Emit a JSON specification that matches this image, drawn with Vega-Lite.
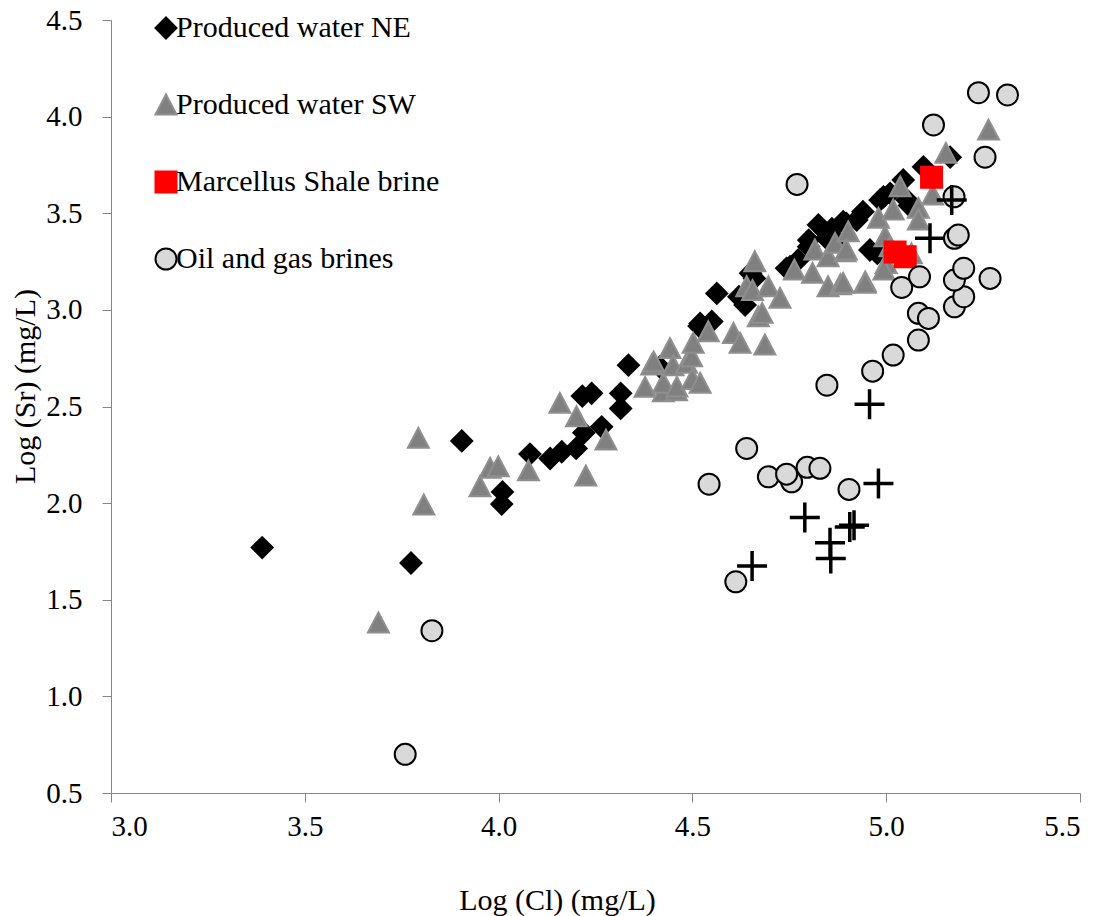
{
  "$schema": "https://vega.github.io/schema/vega-lite/v6.json",
  "width": 969,
  "height": 773,
  "autosize": {"type": "none"},
  "padding": {"left": 111, "top": 20, "right": 23, "bottom": 123},
  "background": "white",
  "config": {
    "view": {"stroke": null},
    "font": "Liberation Serif",
    "axis": {
      "grid": false,
      "domainColor": "#868686",
      "tickColor": "#868686",
      "tickSize": 9,
      "labelFont": "Liberation Serif",
      "labelFontSize": 29,
      "labelColor": "#000000",
      "titleFont": "Liberation Serif",
      "titleFontSize": 30,
      "titleFontWeight": "normal",
      "titleColor": "#000000"
    }
  },
  "data": {
    "values": [
      {"series": "Produced water NE", "cl": 3.39, "sr": 1.77},
      {"series": "Produced water NE", "cl": 3.774, "sr": 1.69},
      {"series": "Produced water NE", "cl": 3.905, "sr": 2.322},
      {"series": "Produced water NE", "cl": 4.01, "sr": 2.058},
      {"series": "Produced water NE", "cl": 4.008, "sr": 1.995},
      {"series": "Produced water NE", "cl": 4.081, "sr": 2.254},
      {"series": "Produced water NE", "cl": 4.133, "sr": 2.231},
      {"series": "Produced water NE", "cl": 4.163, "sr": 2.266},
      {"series": "Produced water NE", "cl": 4.2, "sr": 2.283},
      {"series": "Produced water NE", "cl": 4.22, "sr": 2.364},
      {"series": "Produced water NE", "cl": 4.266, "sr": 2.395},
      {"series": "Produced water NE", "cl": 4.216, "sr": 2.554},
      {"series": "Produced water NE", "cl": 4.24, "sr": 2.568},
      {"series": "Produced water NE", "cl": 4.315, "sr": 2.568},
      {"series": "Produced water NE", "cl": 4.315, "sr": 2.49},
      {"series": "Produced water NE", "cl": 4.335, "sr": 2.714},
      {"series": "Produced water NE", "cl": 4.416, "sr": 2.705},
      {"series": "Produced water NE", "cl": 4.517, "sr": 2.916},
      {"series": "Produced water NE", "cl": 4.52, "sr": 2.93},
      {"series": "Produced water NE", "cl": 4.55, "sr": 2.94},
      {"series": "Produced water NE", "cl": 4.563, "sr": 3.085},
      {"series": "Produced water NE", "cl": 4.62, "sr": 3.068},
      {"series": "Produced water NE", "cl": 4.636, "sr": 3.025},
      {"series": "Produced water NE", "cl": 4.65, "sr": 3.19},
      {"series": "Produced water NE", "cl": 4.66, "sr": 3.163},
      {"series": "Produced water NE", "cl": 4.743, "sr": 3.215},
      {"series": "Produced water NE", "cl": 4.752, "sr": 3.223},
      {"series": "Produced water NE", "cl": 4.773, "sr": 3.258},
      {"series": "Produced water NE", "cl": 4.8, "sr": 3.327},
      {"series": "Produced water NE", "cl": 4.8, "sr": 3.361},
      {"series": "Produced water NE", "cl": 4.825, "sr": 3.44},
      {"series": "Produced water NE", "cl": 4.846, "sr": 3.37},
      {"series": "Produced water NE", "cl": 4.86, "sr": 3.42},
      {"series": "Produced water NE", "cl": 4.872, "sr": 3.361},
      {"series": "Produced water NE", "cl": 4.889, "sr": 3.456},
      {"series": "Produced water NE", "cl": 4.897, "sr": 3.448},
      {"series": "Produced water NE", "cl": 4.924, "sr": 3.465},
      {"series": "Produced water NE", "cl": 4.94, "sr": 3.508},
      {"series": "Produced water NE", "cl": 4.958, "sr": 3.31},
      {"series": "Produced water NE", "cl": 4.977, "sr": 3.292},
      {"series": "Produced water NE", "cl": 4.984, "sr": 3.568},
      {"series": "Produced water NE", "cl": 4.993, "sr": 3.585},
      {"series": "Produced water NE", "cl": 5.01, "sr": 3.603},
      {"series": "Produced water NE", "cl": 5.044, "sr": 3.672},
      {"series": "Produced water NE", "cl": 5.054, "sr": 3.568},
      {"series": "Produced water NE", "cl": 5.06, "sr": 3.54},
      {"series": "Produced water NE", "cl": 5.096, "sr": 3.74},
      {"series": "Produced water NE", "cl": 5.165, "sr": 3.79},
      {"series": "Produced water SW", "cl": 3.69, "sr": 1.38},
      {"series": "Produced water SW", "cl": 3.793, "sr": 2.335},
      {"series": "Produced water SW", "cl": 3.807, "sr": 1.99},
      {"series": "Produced water SW", "cl": 3.952, "sr": 2.085},
      {"series": "Produced water SW", "cl": 3.978, "sr": 2.18},
      {"series": "Produced water SW", "cl": 3.999, "sr": 2.188},
      {"series": "Produced water SW", "cl": 4.077, "sr": 2.167},
      {"series": "Produced water SW", "cl": 4.158, "sr": 2.516},
      {"series": "Produced water SW", "cl": 4.201, "sr": 2.447},
      {"series": "Produced water SW", "cl": 4.225, "sr": 2.14},
      {"series": "Produced water SW", "cl": 4.277, "sr": 2.326},
      {"series": "Produced water SW", "cl": 4.378, "sr": 2.599},
      {"series": "Produced water SW", "cl": 4.395, "sr": 2.714},
      {"series": "Produced water SW", "cl": 4.4, "sr": 2.73},
      {"series": "Produced water SW", "cl": 4.425, "sr": 2.576},
      {"series": "Produced water SW", "cl": 4.425, "sr": 2.62},
      {"series": "Produced water SW", "cl": 4.442, "sr": 2.8},
      {"series": "Produced water SW", "cl": 4.45, "sr": 2.71},
      {"series": "Produced water SW", "cl": 4.459, "sr": 2.581},
      {"series": "Produced water SW", "cl": 4.46, "sr": 2.6},
      {"series": "Produced water SW", "cl": 4.485, "sr": 2.723},
      {"series": "Produced water SW", "cl": 4.498, "sr": 2.757},
      {"series": "Produced water SW", "cl": 4.5, "sr": 2.64},
      {"series": "Produced water SW", "cl": 4.52, "sr": 2.62},
      {"series": "Produced water SW", "cl": 4.502, "sr": 2.827},
      {"series": "Produced water SW", "cl": 4.541, "sr": 2.887},
      {"series": "Produced water SW", "cl": 4.606, "sr": 2.878},
      {"series": "Produced water SW", "cl": 4.623, "sr": 2.827},
      {"series": "Produced water SW", "cl": 4.687, "sr": 2.818},
      {"series": "Produced water SW", "cl": 4.67, "sr": 2.964},
      {"series": "Produced water SW", "cl": 4.68, "sr": 2.982},
      {"series": "Produced water SW", "cl": 4.64, "sr": 3.12},
      {"series": "Produced water SW", "cl": 4.655, "sr": 3.1},
      {"series": "Produced water SW", "cl": 4.696, "sr": 3.12},
      {"series": "Produced water SW", "cl": 4.726, "sr": 3.06},
      {"series": "Produced water SW", "cl": 4.661, "sr": 3.249},
      {"series": "Produced water SW", "cl": 4.763, "sr": 3.206},
      {"series": "Produced water SW", "cl": 4.81, "sr": 3.189},
      {"series": "Produced water SW", "cl": 4.816, "sr": 3.31},
      {"series": "Produced water SW", "cl": 4.85, "sr": 3.275},
      {"series": "Produced water SW", "cl": 4.868, "sr": 3.344},
      {"series": "Produced water SW", "cl": 4.894, "sr": 3.3},
      {"series": "Produced water SW", "cl": 4.902, "sr": 3.404},
      {"series": "Produced water SW", "cl": 4.85, "sr": 3.12},
      {"series": "Produced water SW", "cl": 4.882, "sr": 3.13},
      {"series": "Produced water SW", "cl": 4.889, "sr": 3.137},
      {"series": "Produced water SW", "cl": 4.946, "sr": 3.145},
      {"series": "Produced water SW", "cl": 4.946, "sr": 3.137},
      {"series": "Produced water SW", "cl": 4.897, "sr": 3.31},
      {"series": "Produced water SW", "cl": 4.98, "sr": 3.474},
      {"series": "Produced water SW", "cl": 4.997, "sr": 3.378},
      {"series": "Produced water SW", "cl": 5.01, "sr": 3.327},
      {"series": "Produced water SW", "cl": 5.0, "sr": 3.24},
      {"series": "Produced water SW", "cl": 4.994, "sr": 3.206},
      {"series": "Produced water SW", "cl": 5.018, "sr": 3.517},
      {"series": "Produced water SW", "cl": 5.036, "sr": 3.637},
      {"series": "Produced water SW", "cl": 5.065, "sr": 3.29},
      {"series": "Produced water SW", "cl": 5.083, "sr": 3.525},
      {"series": "Produced water SW", "cl": 5.083, "sr": 3.465},
      {"series": "Produced water SW", "cl": 5.12, "sr": 3.594},
      {"series": "Produced water SW", "cl": 5.154, "sr": 3.81},
      {"series": "Produced water SW", "cl": 5.264, "sr": 3.93},
      {"series": "Marcellus Shale brine", "cl": 5.117, "sr": 3.686},
      {"series": "Marcellus Shale brine", "cl": 5.023, "sr": 3.3},
      {"series": "Marcellus Shale brine", "cl": 5.049, "sr": 3.275},
      {"series": "Oil and gas brines", "cl": 3.759, "sr": 0.7},
      {"series": "Oil and gas brines", "cl": 3.828, "sr": 1.34},
      {"series": "Oil and gas brines", "cl": 4.543, "sr": 2.098},
      {"series": "Oil and gas brines", "cl": 4.612, "sr": 1.593},
      {"series": "Oil and gas brines", "cl": 4.64, "sr": 2.283},
      {"series": "Oil and gas brines", "cl": 4.696, "sr": 2.136},
      {"series": "Oil and gas brines", "cl": 4.756, "sr": 2.11},
      {"series": "Oil and gas brines", "cl": 4.743, "sr": 2.15},
      {"series": "Oil and gas brines", "cl": 4.796, "sr": 2.185},
      {"series": "Oil and gas brines", "cl": 4.829, "sr": 2.18},
      {"series": "Oil and gas brines", "cl": 4.904, "sr": 2.071},
      {"series": "Oil and gas brines", "cl": 4.847, "sr": 2.61},
      {"series": "Oil and gas brines", "cl": 4.965, "sr": 2.683},
      {"series": "Oil and gas brines", "cl": 5.018, "sr": 2.766},
      {"series": "Oil and gas brines", "cl": 5.083, "sr": 2.844},
      {"series": "Oil and gas brines", "cl": 5.083, "sr": 2.982},
      {"series": "Oil and gas brines", "cl": 5.109, "sr": 2.956},
      {"series": "Oil and gas brines", "cl": 5.04, "sr": 3.116},
      {"series": "Oil and gas brines", "cl": 5.086, "sr": 3.171},
      {"series": "Oil and gas brines", "cl": 5.176, "sr": 3.016},
      {"series": "Oil and gas brines", "cl": 5.2, "sr": 3.068},
      {"series": "Oil and gas brines", "cl": 5.176, "sr": 3.154},
      {"series": "Oil and gas brines", "cl": 5.2, "sr": 3.215},
      {"series": "Oil and gas brines", "cl": 5.268, "sr": 3.163},
      {"series": "Oil and gas brines", "cl": 5.176, "sr": 3.37},
      {"series": "Oil and gas brines", "cl": 5.186, "sr": 3.387},
      {"series": "Oil and gas brines", "cl": 5.175, "sr": 3.585},
      {"series": "Oil and gas brines", "cl": 4.77, "sr": 3.649},
      {"series": "Oil and gas brines", "cl": 5.122, "sr": 3.957},
      {"series": "Oil and gas brines", "cl": 5.255, "sr": 3.79},
      {"series": "Oil and gas brines", "cl": 5.238, "sr": 4.124},
      {"series": "Oil and gas brines", "cl": 5.313, "sr": 4.112},
      {"series": "Other", "cl": 4.957, "sr": 2.512},
      {"series": "Other", "cl": 4.98, "sr": 2.102},
      {"series": "Other", "cl": 4.79, "sr": 1.926},
      {"series": "Other", "cl": 4.855, "sr": 1.795},
      {"series": "Other", "cl": 4.857, "sr": 1.714},
      {"series": "Other", "cl": 4.906, "sr": 1.877},
      {"series": "Other", "cl": 4.917, "sr": 1.886},
      {"series": "Other", "cl": 4.654, "sr": 1.674},
      {"series": "Other", "cl": 5.169, "sr": 3.568},
      {"series": "Other", "cl": 5.113, "sr": 3.37}
    ]
  },
  "encoding": {
    "x": {
      "field": "cl", "type": "quantitative",
      "scale": {"domain": [3, 5.5], "nice": false, "zero": false},
      "axis": {
        "title": "Log (Cl) (mg/L)",
        "values": [3, 3.5, 4, 4.5, 5, 5.5],
        "format": ".1f",
        "labelPadding": 10,
        "titleX": 446,
        "titleY": 107,
        "titleBaseline": "middle",
        "titleAnchor": null
      }
    },
    "y": {
      "field": "sr", "type": "quantitative",
      "scale": {"domain": [0.5, 4.5], "nice": false, "zero": false},
      "axis": {
        "title": "Log (Sr) (mg/L)",
        "values": [0.5, 1, 1.5, 2, 2.5, 3, 3.5, 4, 4.5],
        "format": ".1f",
        "labelPadding": 20,
        "titleX": -86,
        "titleY": 366,
        "titleAngle": -90,
        "titleBaseline": "middle",
        "titleAnchor": null
      }
    }
  },
  "layer": [
    {
      "transform": [{"filter": "datum.series !== 'Other'"}],
      "mark": {"type": "point", "filled": true, "size": 441, "strokeWidth": 2, "opacity": 1},
      "encoding": {
        "shape": {
          "field": "series", "type": "nominal",
          "scale": {
            "domain": ["Produced water NE", "Produced water SW", "Marcellus Shale brine", "Oil and gas brines"],
            "range": ["diamond", "M0,-1L1,0.9L-1,0.9Z", "square", "circle"]
          },
          "legend": {
            "title": null,
            "orient": "none",
            "legendX": 40,
            "legendY": -7,
            "padding": 0,
            "rowPadding": 47,
            "labelFont": "Liberation Serif",
            "labelFontSize": 30,
            "labelColor": "#000000",
            "labelLimit": 500,
            "labelOffset": -5,
            "symbolSize": 441,
            "symbolStrokeWidth": 2,
            "symbolOpacity": 1
          }
        },
        "fill": {
          "field": "series", "type": "nominal",
          "scale": {
            "domain": ["Produced water NE", "Produced water SW", "Marcellus Shale brine", "Oil and gas brines"],
            "range": ["#000000", "#808080", "#ff0000", "#d9d9d9"]
          },
          "legend": null
        },
        "stroke": {
          "field": "series", "type": "nominal",
          "scale": {
            "domain": ["Produced water NE", "Produced water SW", "Marcellus Shale brine", "Oil and gas brines"],
            "range": ["#000000", "#8f8f8f", "#ff0000", "#000000"]
          },
          "legend": null
        }
      }
    },
    {
      "transform": [{"filter": "datum.series === 'Other'"}],
      "mark": {"type": "point", "shape": "M-1,0L1,0M0,-1L0,1", "size": 900, "filled": false, "stroke": "#000000", "strokeWidth": 3.5, "opacity": 1},
      "encoding": {}
    }
  ]
}
